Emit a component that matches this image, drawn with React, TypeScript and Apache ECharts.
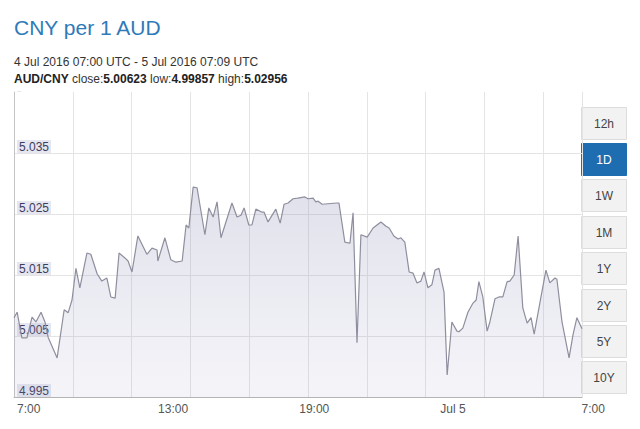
import React, { useEffect, useRef } from "react";
import * as echarts from "echarts";

// minutes since 4 Jul 2016 07:00 UTC
const minutes = [
  0, 8, 20, 33, 46, 56, 69, 79, 87, 110, 128, 138, 148, 158, 168, 186, 196, 212, 224, 237,
  247, 258, 268, 283, 291, 301, 316, 339, 352, 365, 367, 385, 400, 413, 429, 439, 446, 457, 467, 487,
  497, 508, 518, 528, 556, 569, 579, 587, 599, 607, 617, 633, 638, 648, 668, 679, 689, 699, 712, 724,
  742, 750, 763, 770, 776, 786, 824, 829, 844, 857, 865, 875, 885, 901, 916, 936, 949, 957, 969, 980,
  987, 997, 1008, 1018, 1028, 1038, 1046, 1056, 1066, 1074, 1084, 1097, 1105, 1117, 1130, 1135, 1145, 1158, 1171, 1179,
  1186, 1196, 1207, 1214, 1227, 1237, 1247, 1258, 1265, 1276, 1286, 1298, 1309, 1319, 1327, 1342, 1357, 1367, 1380, 1385,
  1398, 1416, 1426, 1436, 1449,
];
const rates = [
  5.008, 5.0089, 5.0047, 5.0047, 5.0081, 5.0073, 5.0089, 5.0073, 5.0048, 5.0014, 5.0093, 5.0088, 5.0109, 5.0161, 5.0129, 5.0186, 5.0184, 5.0152, 5.014, 5.0145,
  5.0114, 5.0112, 5.0186, 5.0178, 5.0173, 5.0155, 5.0214, 5.0184, 5.0194, 5.0191, 5.0173, 5.0211, 5.0175, 5.0171, 5.0173, 5.0232, 5.0227, 5.0294, 5.0293, 5.0216,
  5.026, 5.0245, 5.027, 5.0211, 5.0268, 5.0245, 5.0248, 5.026, 5.0232, 5.0232, 5.0258, 5.0253, 5.0253, 5.0237, 5.0258, 5.0235, 5.0266, 5.0268, 5.0275, 5.0276,
  5.0278, 5.0275, 5.0276, 5.027, 5.0271, 5.0266, 5.0268, 5.0268, 5.0204, 5.0202, 5.0252, 5.0039, 5.0216, 5.0212, 5.0227, 5.0237, 5.023, 5.0227, 5.0214, 5.0209,
  5.0211, 5.0204, 5.0155, 5.0153, 5.0137, 5.014, 5.0155, 5.0129, 5.0134, 5.0158, 5.0161, 5.0122, 4.9986, 5.0073, 5.0058, 5.0057, 5.0063, 5.0089, 5.0104, 5.0109,
  5.0139, 5.0114, 5.0058, 5.0073, 5.0111, 5.0114, 5.0114, 5.0139, 5.014, 5.015, 5.0214, 5.0096, 5.0071, 5.008, 5.0053, 5.0106, 5.0158, 5.0137, 5.0145, 5.0143,
  5.0073, 5.0014, 5.0052, 5.008, 5.0062,
];

const xLabelTicks = [0, 360, 720, 1080, 1440];
const xLabelTexts = ["7:00", "13:00", "19:00", "Jul 5", "7:00"];
const rangeButtons = ["12h", "1D", "1W", "1M", "1Y", "2Y", "5Y", "10Y"];
const activeButton = "1D";

export default function App() {
  const ref = useRef<HTMLDivElement>(null);
  useEffect(() => {
    document.body.style.margin = "0";
    const chart = echarts.init(ref.current!, null, { renderer: "svg" });
    const data = minutes.map((m, i) => [m, rates[i]]);
    const buttonTops = [107, 143, 179, 216, 252, 289, 325, 361];
    const buttons = rangeButtons.map((b, i) => {
      const active = b === activeButton;
      return {
        type: "group",
        left: 581,
        top: buttonTops[i],
        children: [
          {
            type: "rect",
            shape: { x: 0, y: 0, width: 45, height: 32 },
            style: { fill: active ? "#1f6db1" : "#f2f2f2", stroke: active ? "#1f6db1" : "#dddddd", lineWidth: 1 },
          },
          {
            type: "text",
            x: 22.5,
            y: 16,
            style: {
              text: b,
              fill: active ? "#ffffff" : "#444444",
              font: "12px 'Liberation Sans', Arial, sans-serif",
              align: "center",
              verticalAlign: "middle",
            },
          },
        ],
      };
    });
    chart.setOption({
      animation: false,
      backgroundColor: "#ffffff",
      grid: { left: 14, top: 92, right: 58, bottom: 32, containLabel: false },
      xAxis: [
        {
          type: "value",
          min: 0,
          max: 1449,
          interval: 150,
          axisLine: { show: true, lineStyle: { color: "#b4b4b4", width: 1 } },
          axisTick: { show: false },
          axisLabel: { show: false },
          splitLine: { show: true, showMaxLine: true, lineStyle: { color: "#e4e4e4", width: 1 } },
        },
        {
          type: "value",
          min: 0,
          max: 1449,
          interval: 360,
          position: "bottom",
          axisLine: { show: false },
          axisTick: { show: false },
          splitLine: { show: false },
          axisLabel: {
            show: true,
            align: "left",
            margin: 6,
            padding: [0, 0, 0, 3],
            color: "#555555",
            fontSize: 12,
            fontFamily: "'Liberation Sans', Arial, sans-serif",
            formatter: (v: number) => {
              const i = xLabelTicks.indexOf(Math.round(v));
              return i >= 0 ? xLabelTexts[i] : "";
            },
          },
        },
      ],
      yAxis: {
        type: "value",
        min: 4.995,
        max: 5.045,
        interval: 0.01,
        axisLine: { show: true, lineStyle: { color: "#c4c4c4" } },
        axisTick: { show: false },
        splitLine: {
          show: true,
          showMaxLine: false,
          lineStyle: { color: "#e4e4e4" },
        },
        axisLabel: {
          inside: true,
          margin: 3,
          align: "left",
          verticalAlign: "bottom",
          color: "#3c3c5c",
          fontSize: 12,
          fontFamily: "'Liberation Sans', Arial, sans-serif",
          backgroundColor: "#e6e6f0",
          padding: [1, 2, 0, 2],
          formatter: (v: number) => (v > 5.04 ? "" : v.toFixed(3)),
        },
      },
      graphic: [
        {
          type: "text",
          left: 14,
          top: 17,
          style: {
            text: "CNY per 1 AUD",
            fill: "#2f7ab9",
            font: "21px 'Liberation Sans', Arial, sans-serif",
          },
        },
        {
          type: "text",
          left: 14,
          top: 56,
          style: {
            text: "4 Jul 2016 07:00 UTC - 5 Jul 2016 07:09 UTC",
            fill: "#333333",
            font: "12px 'Liberation Sans', Arial, sans-serif",
          },
        },
        {
          type: "text",
          left: 14,
          top: 73,
          style: {
            text: "{b|AUD/CNY} {n|close:}{b|5.00623} {n|low:}{b|4.99857} {n|high:}{b|5.02956}",
            rich: {
              b: { fontWeight: "bold", fontSize: 12, fill: "#222222", fontFamily: "'Liberation Sans', Arial, sans-serif" },
              n: { fontSize: 12, fill: "#333333", fontFamily: "'Liberation Sans', Arial, sans-serif" },
            },
          },
        },
        ...buttons,
      ],
      series: [
        {
          type: "line",
          data,
          showSymbol: false,
          symbol: "none",
          lineStyle: { color: "#8e8e9e", width: 1.2 },
          areaStyle: {
            color: new echarts.graphic.LinearGradient(0, 0, 0, 1, [
              { offset: 0, color: "rgba(140,140,180,0.38)" },
              { offset: 1, color: "rgba(160,160,200,0.16)" },
            ]),
            origin: "start",
          },
        },
      ],
    } as any);
    return () => chart.dispose();
  }, []);
  return <div ref={ref} style={{ position: "absolute", left: 0, top: 0, width: 640, height: 429 }} />;
}
